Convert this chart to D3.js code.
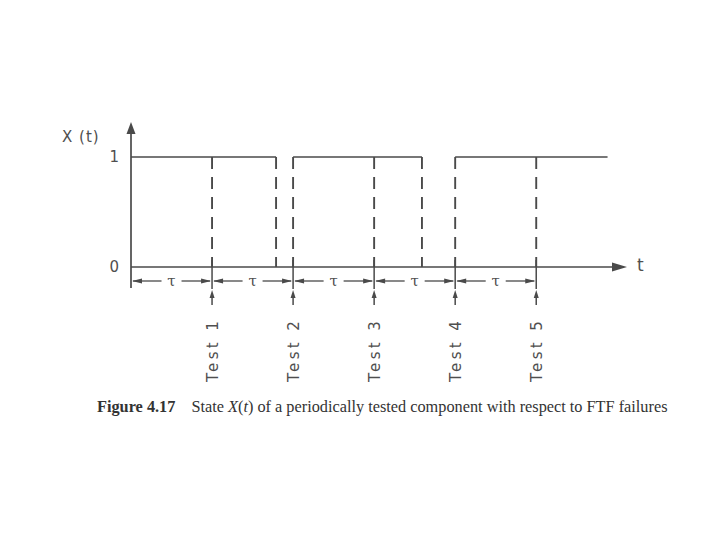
<!DOCTYPE html>
<html>
<head>
<meta charset="utf-8">
<script src="https://cdn.jsdelivr.net/npm/d3@7"></script>
<style>
  html, body { margin: 0; padding: 0; background: #fff; }
  svg { display: block; }
</style>
</head>
<body>
<svg id="chart" width="720" height="540"></svg>
<script>
// ---- data (time in units of the test interval tau) ----
const testTimes   = [1, 2, 3, 4, 5];
const testLabels  = ["Test 1", "Test 2", "Test 3", "Test 4", "Test 5"];
const upStarts    = [0, 2, 4];          // component restored (state = 1)
const upEnds      = [1.79, 3.59, 5.88]; // failure occurs (state -> 0); last = end of drawing
const yTickValues = [0, 1];
const yTickLabels = ["0", "1"];
const intervalMarks = [0, 1, 2, 3, 4, 5];
const intervalLabel = "τ";
const tMax = 6.12;

const svg = d3.select("#chart");
const ink = "#4a4a4a";
const txt = "#4f4f4f";
const sans = "'DejaVu Sans', sans-serif";

const x = d3.scaleLinear().domain([0, tMax]).range([131, 627]);
const y = d3.scaleLinear().domain([0, 1]).range([267, 157]);

const g = svg.append("g");

// arrowhead helper
function arrowHead(tipX, tipY, dir, len = 9, half = 3.5) {
  let pts;
  if (dir === "up")    pts = [[tipX, tipY], [tipX - half, tipY + len], [tipX + half, tipY + len]];
  if (dir === "down")  pts = [[tipX, tipY], [tipX - half, tipY - len], [tipX + half, tipY - len]];
  if (dir === "right") pts = [[tipX, tipY], [tipX - len, tipY - half], [tipX - len, tipY + half]];
  if (dir === "left")  pts = [[tipX, tipY], [tipX + len, tipY - half], [tipX + len, tipY + half]];
  g.append("path").attr("d", d3.line()(pts) + "Z").attr("fill", ink).attr("stroke", "none");
}

// y axis
g.append("line").attr("x1", x(0)).attr("x2", x(0)).attr("y1", 288).attr("y2", 130)
  .attr("stroke", ink).attr("stroke-width", 1.7);
arrowHead(x(0), 122, "up", 12, 4.5);

// x axis
g.append("line").attr("x1", x(0)).attr("x2", x(tMax) - 10).attr("y1", y(0)).attr("y2", y(0))
  .attr("stroke", ink).attr("stroke-width", 1.7);
arrowHead(x(tMax), y(0), "right", 15, 4.5);

// y tick labels
g.selectAll(".ytl").data(yTickValues).enter().append("text")
  .attr("x", 119).attr("y", d => y(d)).attr("dy", "0.35em")
  .attr("text-anchor", "end").attr("font-family", sans).attr("font-size", 15).attr("fill", txt)
  .text((d, i) => yTickLabels[i]);

// axis titles
g.append("text").attr("x", 62).attr("y", 137).attr("dy", "0.35em")
  .attr("font-family", sans).attr("font-size", 15).attr("letter-spacing", "1px")
  .attr("fill", txt).text("X (t)");
g.append("text").attr("x", 637).attr("y", 265).attr("dy", "0.35em")
  .attr("font-family", sans).attr("font-size", 17).attr("fill", txt).text("t");

// state = 1 segments (solid)
upStarts.forEach((s, i) => {
  g.append("line").attr("x1", x(s)).attr("x2", x(upEnds[i])).attr("y1", y(1)).attr("y2", y(1))
    .attr("stroke", ink).attr("stroke-width", 1.7);
});

// dashed vertical transitions and test lines
const dashedXs = [];
upEnds.slice(0, -1).forEach(e => dashedXs.push(e));
testTimes.forEach(t => dashedXs.push(t));
dashedXs.forEach(t => {
  g.append("line").attr("x1", x(t)).attr("x2", x(t)).attr("y1", y(1)).attr("y2", y(0))
    .attr("stroke", ink).attr("stroke-width", 1.9).attr("stroke-dasharray", "12,8");
});

// test markers: solid line through interval row + upward arrow
testTimes.forEach(t => {
  g.append("line").attr("x1", x(t)).attr("x2", x(t)).attr("y1", 260).attr("y2", 289)
    .attr("stroke", ink).attr("stroke-width", 1.5);
  g.append("line").attr("x1", x(t)).attr("x2", x(t)).attr("y1", 296).attr("y2", 305)
    .attr("stroke", ink).attr("stroke-width", 1.5);
  arrowHead(x(t), 290, "up", 8, 2.5);
});

// interval row (tau dimension lines)
const rowY = 281;
for (let i = 0; i < intervalMarks.length - 1; i++) {
  const a = x(intervalMarks[i]), b = x(intervalMarks[i + 1]);
  const m = (a + b) / 2;
  g.append("line").attr("x1", a + 2).attr("x2", m - 10).attr("y1", rowY).attr("y2", rowY)
    .attr("stroke", ink).attr("stroke-width", 1.3);
  g.append("line").attr("x1", m + 10).attr("x2", b - 2).attr("y1", rowY).attr("y2", rowY)
    .attr("stroke", ink).attr("stroke-width", 1.3);
  arrowHead(a + 1, rowY, "left", 10, 2.5);
  arrowHead(b - 1, rowY, "right", 10, 2.5);
  g.append("text").attr("x", m).attr("y", rowY).attr("dy", "0.35em")
    .attr("text-anchor", "middle").attr("font-family", "'DejaVu Serif', serif").attr("font-size", 15)
    .attr("fill", txt).text(intervalLabel);
}

// test labels (rotated)
testTimes.forEach((t, i) => {
  g.append("text")
    .attr("transform", `translate(${x(t) + 6},${382}) rotate(-90)`)
    .attr("font-family", sans).attr("font-size", 15).attr("letter-spacing", "3.4px")
    .attr("fill", txt).text(testLabels[i]);
});

// caption
const cap = svg.append("text").attr("x", 97).attr("y", 412)
  .attr("font-family", "'Liberation Serif', 'Times New Roman', serif").attr("font-size", 16.3)
  .attr("fill", "#333");
cap.append("tspan").attr("font-weight", "bold").text("Figure 4.17");
cap.append("tspan").attr("dx", 16).text("State ");
cap.append("tspan").attr("font-style", "italic").text("X");
cap.append("tspan").text("(");
cap.append("tspan").attr("font-style", "italic").text("t");
cap.append("tspan").text(") of a periodically tested component with respect to FTF failures");
</script>
</body>
</html>
